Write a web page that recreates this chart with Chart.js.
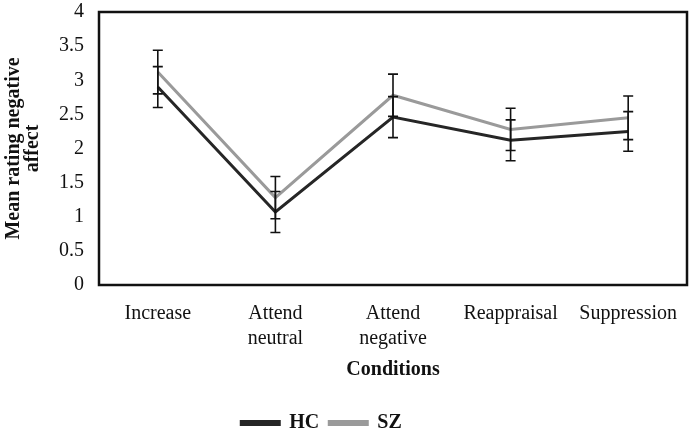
<!DOCTYPE html>
<html>
<head>
<meta charset="utf-8">
<script src="https://cdn.jsdelivr.net/npm/chart.js@4"></script>
<style>
  html, body { margin: 0; padding: 0; background: #fff; }
  #wrap { width: 689px; height: 435px; }
</style>
</head>
<body>
<div id="wrap"><canvas id="chart" width="689" height="435"></canvas></div>
<script>
// Data
const conditions = [['Increase'], ['Attend', 'neutral'], ['Attend', 'negative'], ['Reappraisal'], ['Suppression']];
const hcMeans = [2.90, 1.07, 2.46, 2.12, 2.25];
const hcErrors = [0.30, 0.30, 0.30, 0.30, 0.29];
const szMeans = [3.12, 1.28, 2.78, 2.28, 2.45];
const szErrors = [0.32, 0.31, 0.31, 0.31, 0.32];
const yTicks = [0, 0.5, 1, 1.5, 2, 2.5, 3, 3.5, 4];

const serif = "'Liberation Serif', 'Times New Roman', serif";

// Error bars and the closed plot frame
const errorBarPlugin = {
    id: 'errorBars',
    afterLayout(chart) {
        // legend sits a bit left of centre and lower in the original
        const lg = chart.legend;
        lg.left -= 24;
        lg.right -= 24;
        lg.top += 8;
        lg.bottom += 8;
    },
    afterDatasetsDraw(chart) {
        const { ctx, scales: { x, y } } = chart;
        ctx.save();
        ctx.strokeStyle = '#111';
        ctx.lineWidth = 1.6;
        chart.data.datasets.forEach((ds) => {
            ds.data.forEach((v, i) => {
                const err = ds.errors[i];
                const px = x.getPixelForValue(i);
                const top = y.getPixelForValue(v + err);
                const bot = y.getPixelForValue(v - err);
                ctx.beginPath();
                ctx.moveTo(px, top); ctx.lineTo(px, bot);
                ctx.moveTo(px - 5, top); ctx.lineTo(px + 5, top);
                ctx.moveTo(px - 5, bot); ctx.lineTo(px + 5, bot);
                ctx.stroke();
            });
        });
        const a = chart.chartArea;
        ctx.strokeStyle = '#111';
        ctx.lineWidth = 2.5;
        ctx.strokeRect(a.left, a.top, a.right - a.left, a.bottom - a.top);
        ctx.restore();
    }
};

new Chart(document.getElementById('chart'), {
    type: 'line',
    data: {
        labels: conditions,
        datasets: [
            {
                label: 'HC',
                data: hcMeans,
                errors: hcErrors,
                borderColor: '#262626',
                backgroundColor: '#262626',
                borderWidth: 3,
                pointRadius: 0,
                tension: 0
            },
            {
                label: 'SZ',
                data: szMeans,
                errors: szErrors,
                borderColor: '#9a9a9a',
                backgroundColor: '#9a9a9a',
                borderWidth: 3,
                pointRadius: 0,
                tension: 0
            }
        ]
    },
    options: {
        responsive: false,
        animation: false,
        layout: { padding: { top: 12, right: 2, left: 4, bottom: 0 } },
        plugins: {
            legend: {
                position: 'bottom',
                labels: {
                    boxWidth: 38,
                    boxHeight: 3,
                    padding: 10,
                    color: '#111',
                    font: { family: serif, size: 20, weight: 'bold' }
                }
            },
            tooltip: { enabled: false }
        },
        scales: {
            x: {
                offset: true,
                afterFit(scale) {
                    scale.paddingLeft = 0;
                    scale.paddingRight = 0;
                },
                grid: { display: false, drawTicks: false },
                border: { display: false },
                ticks: {
                    color: '#111',
                    padding: 16,
                    maxRotation: 0,
                    autoSkip: false,
                    font: { family: serif, size: 20, lineHeight: 1.25 }
                },
                title: {
                    display: true,
                    text: 'Conditions',
                    color: '#111',
                    padding: { top: -9, bottom: 13 },
                    font: { family: serif, size: 20, weight: 'bold' }
                }
            },
            y: {
                min: 0,
                max: 4,
                afterBuildTicks(scale) {
                    scale.ticks = yTicks.map((v) => ({ value: v }));
                },
                afterFit(scale) {
                    scale.paddingTop = 0;
                    scale.paddingBottom = 0;
                },
                grid: { display: false, drawTicks: false },
                border: { display: false },
                ticks: {
                    color: '#111',
                    padding: 15,
                    callback: (v) => String(v),
                    font: { family: serif, size: 20 }
                },
                title: {
                    display: true,
                    text: ['Mean rating negative', 'affect'],
                    color: '#111',
                    padding: { top: 0, bottom: 2 },
                    font: { family: serif, size: 20, weight: 'bold', lineHeight: 0.95 }
                }
            }
        }
    },
    plugins: [errorBarPlugin]
});
</script>
</body>
</html>
